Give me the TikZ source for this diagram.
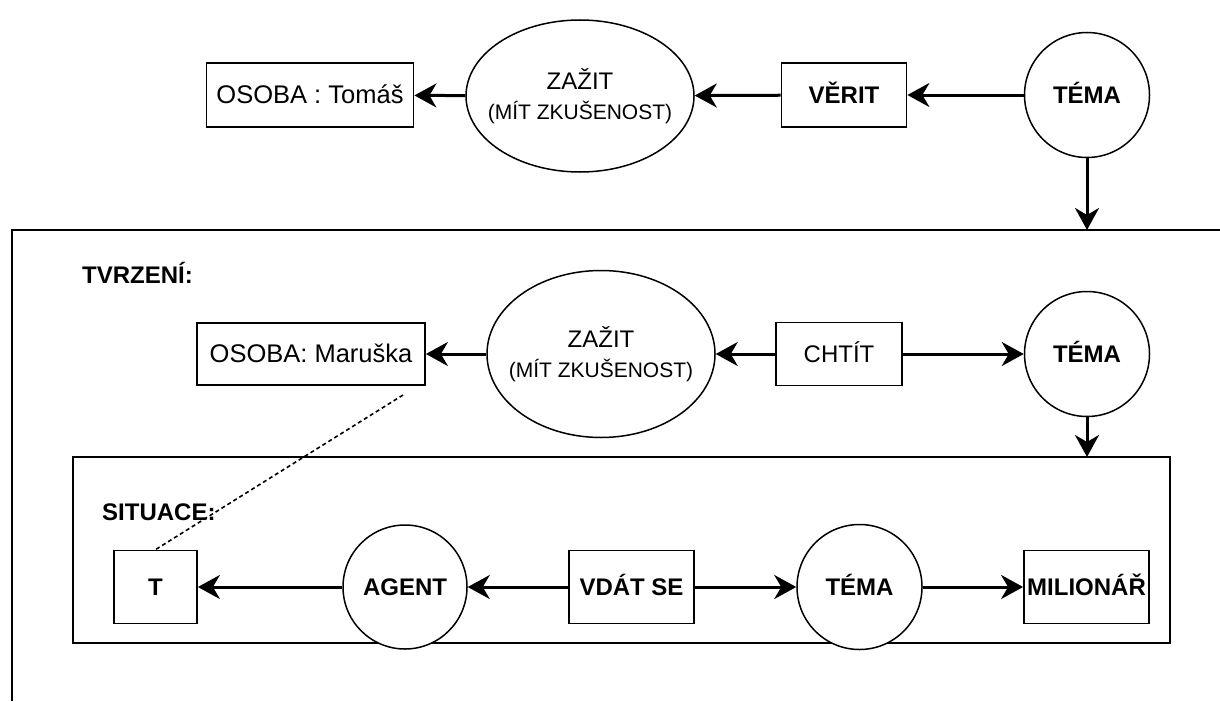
\documentclass[tikz,border=0pt]{standalone}
\usepackage{fontspec}
\setmainfont{Liberation Sans}
\usetikzlibrary{arrows.meta,shapes.geometric}

\begin{document}
\begin{tikzpicture}[x=1pt,y=-1pt,
  txt/.style={font=\fontsize{24}{28}\selectfont},
  ltxt/.style={font=\fontsize{25.5}{28}\selectfont},
  btxt/.style={font=\bfseries\fontsize{24}{28}\selectfont},
  box/.style={draw, line width=1.8pt, fill=white, inner sep=0pt,
    text height=17pt, text depth=0pt},
  circ/.style={draw, circle, line width=1.5pt, fill=white, inner sep=0pt,
    minimum size=125pt, text height=17pt, text depth=0pt, btxt},
  oval/.style={draw, ellipse, line width=1.5pt, fill=white,
    inner xsep=-20pt, inner ysep=0pt,
    align=center, font=\fontsize{24}{30}\selectfont},
  conn/.style={line width=3pt, -{Stealth[length=22pt,width=24pt,inset=7pt]}},
  frame/.style={draw, line width=1.9pt, inner sep=0pt, outer sep=0pt},
  link/.style={line width=1.6pt, dash pattern=on 4pt off 3pt}]

\useasboundingbox (0,0) rectangle (1220,701);

% outer frame (runs past the right and bottom edges)
\draw[line width=1.9pt] (1220,230) -- (12,230) -- (12,701);
\coordinate (outertop) at (1087,230);

% inner frame
\node[frame, minimum width=1097pt, minimum height=186pt] (sitbox) at (621.5,550) {};

% section captions
\node[btxt, anchor=base west, inner sep=0pt] (tvrzeni) at (82,283) {TVRZENÍ:};
\node[btxt, anchor=base west, inner sep=0pt] (situace) at (102,520) {SITUACE:};

% top row
\node[box, ltxt, minimum width=207pt, minimum height=64pt] (tomas) at (310,95) {OSOBA : Tomáš};
\node[oval, minimum width=228pt, minimum height=152pt] (zazit1) at (580,96)
  {ZAŽIT\\{\fontsize{21}{30}\selectfont (MÍT ZKUŠENOST)}};
\node[box, btxt, minimum width=125pt, minimum height=64pt] (verit) at (844,95) {VĚRIT};
\node[circ] (tema1) at (1087,95) {TÉMA};

% middle row
\node[box, ltxt, minimum width=228pt, minimum height=62pt] (maruska) at (311,354) {OSOBA: Maruška};
\node[oval, minimum width=228pt, minimum height=167pt] (zazit2) at (601,354)
  {ZAŽIT\\{\fontsize{21}{30}\selectfont (MÍT ZKUŠENOST)}};
\node[box, txt, minimum width=126pt, minimum height=63pt] (chtit) at (839,354) {CHTÍT};
\node[circ] (tema2) at (1087,354) {TÉMA};

% bottom row
\node[box, btxt, minimum width=83pt, minimum height=73pt] (t) at (155.5,587) {T};
\node[circ, minimum size=124pt] (agent) at (405,587) {AGENT};
\node[box, btxt, minimum width=125pt, minimum height=73pt] (vdat) at (631.5,587) {VDÁT SE};
\node[circ] (tema3) at (859.5,587) {TÉMA};
\node[box, btxt, minimum width=125pt, minimum height=73pt] (milionar) at (1086.5,587) {MILIONÁŘ};

% connectors
\draw[conn] (tema1) -- (verit);
\draw[conn] (verit) -- (zazit1);
\draw[conn] (zazit1) -- (tomas);
\draw[conn] (tema1) -- (outertop);

\draw[conn] (chtit) -- (zazit2);
\draw[conn] (chtit) -- (tema2);
\draw[conn] (zazit2) -- (maruska);
\draw[conn] (tema2) -- (tema2 |- sitbox.north);

\draw[conn] (vdat) -- (agent);
\draw[conn] (agent) -- (t);
\draw[conn] (vdat) -- (tema3);
\draw[conn] (tema3) -- (milionar);

% co-reference link
\coordinate (linkend) at (403,395);
\draw[link] (linkend) -- (t.north);
\end{tikzpicture}
\end{document}
